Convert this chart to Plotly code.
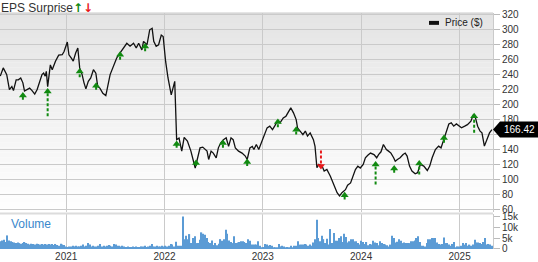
import plotly.graph_objects as go
import pandas as pd

# ---------------- data ----------------
price_dates = [
    "2020-05-01", "2020-05-12", "2020-05-25", "2020-06-04", "2020-06-13", "2020-06-19", "2020-06-29",
    "2020-07-07", "2020-07-16", "2020-07-24", "2020-07-30", "2020-08-08", "2020-08-18", "2020-08-27",
    "2020-09-06", "2020-09-15", "2020-09-24", "2020-10-03", "2020-10-09", "2020-10-15", "2020-10-19",
    "2020-10-24", "2020-11-03", "2020-11-10", "2020-11-22", "2020-12-04", "2020-12-17", "2020-12-24",
    "2021-01-05", "2021-01-11", "2021-01-20", "2021-01-27", "2021-02-05", "2021-02-13", "2021-02-20",
    "2021-03-01", "2021-03-08", "2021-03-15", "2021-03-24", "2021-04-02", "2021-04-12", "2021-04-21",
    "2021-04-28", "2021-05-06", "2021-05-17", "2021-05-28", "2021-06-13", "2021-06-25", "2021-07-07",
    "2021-07-20", "2021-08-01", "2021-08-14", "2021-08-26", "2021-09-08", "2021-09-18", "2021-09-27",
    "2021-10-09", "2021-10-15", "2021-10-28", "2021-11-07", "2021-11-16", "2021-11-22", "2021-12-01",
    "2021-12-10", "2021-12-20", "2021-12-27",
    "2022-01-05", "2022-01-14", "2022-01-26", "2022-02-08", "2022-02-15", "2022-02-24", "2022-03-06",
    "2022-03-15", "2022-03-27", "2022-04-09", "2022-04-25", "2022-05-07", "2022-05-13", "2022-05-23",
    "2022-06-08", "2022-06-14", "2022-06-23", "2022-07-01", "2022-07-12", "2022-07-20", "2022-07-29",
    "2022-08-08", "2022-08-18", "2022-08-27", "2022-09-05", "2022-09-13", "2022-09-21", "2022-10-03",
    "2022-10-16", "2022-10-28", "2022-11-04", "2022-11-14", "2022-11-23", "2022-11-29", "2022-12-08",
    "2022-12-17", "2022-12-29",
    "2023-01-07", "2023-01-17", "2023-01-27", "2023-02-06", "2023-02-14", "2023-02-24", "2023-03-06",
    "2023-03-18", "2023-03-28", "2023-04-07", "2023-04-15", "2023-04-25", "2023-05-05", "2023-05-10",
    "2023-05-20", "2023-05-30", "2023-06-08", "2023-06-16", "2023-06-26", "2023-07-08", "2023-07-14",
    "2023-07-21", "2023-07-28", "2023-08-09", "2023-08-17", "2023-08-27", "2023-09-09", "2023-09-21",
    "2023-10-04", "2023-10-13", "2023-10-22", "2023-11-04", "2023-11-12", "2023-11-23", "2023-12-02",
    "2023-12-11", "2023-12-20", "2023-12-29",
    "2024-01-09", "2024-01-17", "2024-01-26", "2024-02-05", "2024-02-18", "2024-02-28", "2024-03-06",
    "2024-03-15", "2024-03-24", "2024-04-04", "2024-04-12", "2024-04-21", "2024-05-01", "2024-05-07",
    "2024-05-15", "2024-05-25", "2024-06-05", "2024-06-13", "2024-06-20", "2024-06-29", "2024-07-08",
    "2024-07-20", "2024-07-29", "2024-08-08", "2024-08-21", "2024-09-03", "2024-09-12", "2024-09-21",
    "2024-10-03", "2024-10-15", "2024-10-24", "2024-11-04", "2024-11-13", "2024-11-22", "2024-12-01",
    "2024-12-10", "2024-12-20", "2024-12-29",
    "2025-01-08", "2025-01-20", "2025-01-30", "2025-02-12", "2025-02-21", "2025-03-01", "2025-03-09",
    "2025-03-18", "2025-03-25", "2025-04-03", "2025-04-13", "2025-04-22", "2025-05-01",
]
price_values = [
    238, 249, 240, 220, 224, 218.6, 233, 233, 235.5, 229, 218, 220, 222, 218.6, 214, 220, 229, 240,
    242, 238, 244.5, 224, 253, 246.6, 258, 266, 266.6, 271,
    283.6, 266.6, 262, 258, 269, 275.6, 249, 240, 229, 221, 231, 235.5, 246.6, 242, 224, 222, 215, 212,
    240, 251, 262, 269, 275.6, 282, 278, 282, 275.6, 282, 273, 284.5, 280, 300, 302, 284.5, 278, 280,
    293, 291,
    258, 235.5, 213, 231, 153, 155, 137.6, 156, 151, 137.6, 115, 135, 142, 143, 137.6, 126.4, 137.6,
    135, 128.7, 142, 148.7, 153, 155.4, 144, 155.4, 153, 142, 137.6, 135, 131, 126.4, 142, 144, 139.8,
    146.5, 139.8, 151,
    157.7, 168.8, 171, 166.5, 171, 177.7, 175.4, 182, 184.4, 191, 195.5, 188.8, 179.8, 168.8, 164.4,
    159.8, 164.4, 157.7, 162, 153, 144, 115.4, 119.8, 117.6, 111, 113, 104, 93, 82, 77.6, 82, 86, 92,
    95, 104, 113, 117.6, 115,
    119.8, 128.7, 132, 135, 133, 128.7, 133, 136.7, 146.5, 139.8, 137.6, 135, 128.7, 124, 126.4, 128.7,
    133, 135, 131, 117.6, 111, 107.3, 108.7, 119.8, 117.6, 111.7, 117.6, 128.7, 139.8, 144.3, 142,
    155.4, 164.4, 174, 175.4, 171, 174, 171,
    168.8, 171, 173, 177.7, 186.5, 182, 171, 164.4, 162, 144.3, 153, 162, 166.42,
]
last_price = 166.42

# weekly volume, thousands of shares
volume_k = [
    3.5, 3.9, 4.2, 3.2, 6.2, 3.9, 3.5, 3.2, 3.0, 2.7, 3.0, 2.7, 2.4, 2.7, 3.2, 2.7, 2.4, 2.0, 2.4, 2.3,
    2.0, 2.4, 2.3, 2.0, 2.3, 2.0, 2.3, 2.0, 2.3, 2.0, 2.3, 1.8, 2.3, 1.8, 1.5, 2.4, 2.1, 1.8, 1.2, 0.9,
    1.2, 1.2, 1.5, 1.2, 1.5, 1.2, 1.2, 1.5, 2.0, 1.2, 1.5, 2.7, 2.0, 1.2, 1.5, 1.2, 1.2, 1.5, 2.3, 1.2,
    1.5, 1.2, 1.5, 1.8, 1.5, 1.2, 2.3, 2.0, 1.5, 1.5, 1.2, 1.5, 1.2, 0.9, 1.2, 0.9, 0.9, 1.2, 0.9, 1.2,
    0.9, 0.9, 1.2, 1.2, 1.5, 0.9, 1.2, 1.5, 2.3, 1.2, 1.2, 1.5, 1.2, 1.2, 1.5, 1.2, 1.5, 1.2, 1.5, 2.3,
    2.0, 1.2,
    3.3, 1.5, 1.5, 1.5, 14.8, 4.5, 6.1, 4.5, 6.8, 2.7, 5.0, 5.8, 2.7, 2.7, 4.2, 7.6, 7.0, 6.5, 5.0, 3.2,
    2.7, 3.9, 1.8, 2.7, 1.7, 2.4, 4.5, 3.8, 4.5, 8.8, 7.0, 3.9, 3.2, 2.7, 5.8, 2.7, 3.0, 3.2, 3.5, 3.5,
    3.2, 2.7, 4.5, 3.8, 2.0, 2.0, 2.0, 2.0, 3.5, 1.5, 0.8, 0.9, 2.3, 2.0, 1.5, 1.8, 1.5, 0.8, 0.8, 0.8,
    2.3, 1.2, 1.5, 1.2, 0.8, 0.9, 0.8, 1.5, 0.8, 1.5, 1.5, 3.5, 2.0, 2.1, 2.0, 2.3, 2.0, 1.5, 2.0, 1.5,
    3.0, 4.5, 13.3, 5.0, 3.5, 6.1, 4.5, 2.7, 4.7, 2.0,
    9.1, 2.7, 7.3, 3.8, 3.8, 5.0, 5.8, 3.2, 7.0, 5.5, 3.0, 3.5, 4.5, 4.5, 3.5, 3.5, 2.7, 2.0, 3.8, 3.2,
    2.3, 3.2, 1.7, 2.3, 2.0, 3.8, 3.0, 2.7, 1.7, 3.5, 2.7, 2.3, 2.0, 1.7, 1.2, 2.0, 6.1, 5.0, 3.0, 3.3,
    4.5, 3.8, 2.7, 3.0, 2.7, 2.7, 2.7, 3.5, 3.5, 3.9, 5.0, 5.8, 3.2, 1.5, 1.5, 1.2, 2.7, 4.5, 4.5, 5.0,
    5.0, 5.0, 3.0, 2.3, 2.0, 2.3, 5.3, 2.7, 2.7, 2.0, 1.5, 2.3, 3.2, 0.8, 1.2, 1.2, 1.5, 2.7, 2.0, 2.7,
    1.5, 2.0, 1.5, 2.0, 4.2, 3.0, 3.0, 2.7, 2.3, 3.2, 5.0, 2.0, 2.3, 2.0, 1.5,
]
volume_start = "2020-05-02"
volume_end = "2025-05-01"

eps_dates = [
    "2020-07-24", "2020-10-24", "2021-02-20", "2021-04-22", "2021-07-20", "2021-10-21",
    "2022-02-15", "2022-04-28", "2022-08-06", "2022-11-04", "2023-02-26", "2023-05-05",
    "2023-08-05", "2023-11-01", "2024-02-24", "2024-05-03", "2024-08-04", "2024-11-04",
    "2025-02-24",
]
eps_head = [216.8, 222.2, 248.9, 229.8, 271.2, 282.2, 151.8, 126.4, 153.1, 127.8, 181.2, 171.0,
            113.1, 83.3, 124.3, 119.0, 125.6, 159.8, 188.8]
eps_tail = [206.5, 184.4, 236.4, 219.9, 260.0, 271.2, 142.0, 117.6, 142.0, 117.6, 169.7, 159.8,
            138.4, 73.0, 93.0, 108.7, 106.4, 148.7, 162.1]
eps_result = ["beat"] * 12 + ["miss"] + ["beat"] * 6

price_ticks = list(range(60, 321, 20))
# the 160 label sits under the last-price tag in the reference
price_tick_text = ["" if v == 160 else str(v) for v in price_ticks]
volume_ticks = [0, 5, 10, 15]
volume_tick_text = ["0", "5k", "10k", "15k"]

# ---------------- styling ----------------
FONT = "Liberation Sans, Arial, Helvetica, sans-serif"
GREEN = "#118a11"
RED = "#e8191b"
GRID = "#cacaca"
TEXT = "#333333"

W, H = 538, 262
M_L, M_R, M_T, M_B = 0, 45, 13, 10
plot_h = H - M_T - M_B
price_bottom_px = 215
vol_top_px = 216.5
price_dom0 = (H - M_B - price_bottom_px) / plot_h
vol_dom1 = (H - M_B - vol_top_px) / plot_h
y_range = [55.5, 322.5]
px_per_dollar = (1 - price_dom0) * plot_h / (y_range[1] - y_range[0])

fig = go.Figure()

# price line
fig.add_trace(go.Scatter(
    x=price_dates, y=price_values, mode="lines",
    line=dict(color="#111111", width=1.3), xaxis="x", yaxis="y", showlegend=False,
    hoverinfo="skip",
))

# EPS arrows
tri_size = 7
tip_off = (tri_size / 2) / px_per_dollar
for kind, color, sym, sign in [("beat", GREEN, "triangle-up", 1), ("miss", RED, "triangle-down", -1)]:
    sx, sy, hx, hy = [], [], [], []
    for d, h, t, r in zip(eps_dates, eps_head, eps_tail, eps_result):
        if r != kind:
            continue
        center = h - sign * tip_off
        sx += [d, d, None]
        sy += [t, center, None]
        hx.append(d)
        hy.append(center)
    fig.add_trace(go.Scatter(
        x=sx, y=sy, mode="lines", line=dict(color=color, width=2, dash="3px,2px"),
        xaxis="x", yaxis="y", showlegend=False, hoverinfo="skip",
    ))
    fig.add_trace(go.Scatter(
        x=hx, y=hy, mode="markers",
        marker=dict(symbol=sym, size=tri_size, color=color, line=dict(width=0)),
        xaxis="x", yaxis="y", showlegend=False, hoverinfo="skip",
    ))

# volume bars
vol_dates = pd.date_range(volume_start, volume_end, periods=len(volume_k))
fig.add_trace(go.Bar(
    x=vol_dates, y=volume_k, marker=dict(color="#5b9bd5", line=dict(width=0)),
    xaxis="x2", yaxis="y2", showlegend=False, hoverinfo="skip",
))

# gradient background of price panel
shapes = []
n_bands = 40
for i in range(n_bands):
    f0 = price_dom0 + (1 - price_dom0) * i / n_bands
    f1 = price_dom0 + (1 - price_dom0) * (i + 1) / n_bands
    frac = (i + 0.5) / n_bands
    c = int(round(255 - (255 - 228) * frac))
    shapes.append(dict(type="rect", xref="paper", yref="paper", x0=0, x1=1, y0=f0, y1=f1,
                       fillcolor=f"rgb({c},{c},{c})", line=dict(width=0), layer="below"))
# separator between panels
sep_y = (H - M_B - 216) / plot_h
shapes.append(dict(type="line", xref="paper", yref="paper", x0=0, x1=1, y0=sep_y, y1=sep_y,
                   line=dict(color="#dcdcdc", width=2), layer="above"))
# top border
shapes.append(dict(type="line", xref="paper", yref="paper", x0=0, x1=1, y0=1, y1=1,
                   line=dict(color=GRID, width=1), layer="below"))
# legend swatch
plot_w = W - M_L - M_R
shapes.append(dict(type="rect", xref="paper", yref="paper",
                   x0=429 / plot_w, x1=439 / plot_w,
                   y0=(H - M_B - 25) / plot_h, y1=(H - M_B - 21) / plot_h,
                   fillcolor="#111111", line=dict(width=0)))
# last price tag
shapes.append(dict(type="path", xref="paper", xsizemode="pixel", xanchor=1,
                   yref="y", ysizemode="pixel", yanchor=last_price,
                   path="M0,0 L7,8 L60,8 L60,-8 L7,-8 Z",
                   fillcolor="#000000", line=dict(width=0)))

arrow_style = "font-family:DejaVu Sans;font-weight:bold;font-size:12px"
annotations = [
    dict(xref="paper", yref="paper", x=0, y=1, xanchor="left", yanchor="top", showarrow=False,
         text=(f"EPS Surprise<span style='color:{GREEN};{arrow_style}'>↑</span>"
               f"<span style='color:{RED};{arrow_style}'>↓</span>"),
         font=dict(family=FONT, size=12, color=TEXT), borderpad=0, yshift=M_T),
    dict(xref="paper", yref="paper", x=443 / plot_w, y=(H - M_B - 23) / plot_h,
         xanchor="left", yanchor="middle", showarrow=False, text="Price ($)",
         font=dict(family=FONT, size=10, color="#222222")),
    dict(xref="paper", yref="paper", x=9 / plot_w, y=(H - M_B - 227) / plot_h,
         xanchor="left", yanchor="middle", showarrow=False, text="Volume",
         font=dict(family=FONT, size=12, color="#3a88cc")),
    dict(xref="paper", yref="y", x=1, y=last_price, xanchor="left", yanchor="middle",
         xshift=9, showarrow=False, text=f"{last_price:.2f}",
         font=dict(family=FONT, size=10, color="#ffffff")),
]

x_range = ["2020-04-30", "2025-05-05"]
common_x = dict(range=x_range, type="date", dtick="M12", tick0="2021-01-01",
                showgrid=True, gridcolor=GRID, gridwidth=1, zeroline=False, ticks="",
                showline=False)

fig.update_layout(
    width=W, height=H,
    margin=dict(l=M_L, r=M_R, t=M_T, b=M_B, pad=0),
    paper_bgcolor="#ffffff", plot_bgcolor="rgba(0,0,0,0)",
    font=dict(family=FONT, size=10, color=TEXT),
    showlegend=False, bargap=0.3,
    xaxis=dict(domain=[0, 1], anchor="y", showticklabels=False, **common_x),
    xaxis2=dict(domain=[0, 1], anchor="y2", matches="x", showticklabels=True, tickformat="%Y",
                tickfont=dict(family=FONT, size=10, color=TEXT), **common_x),
    yaxis=dict(domain=[price_dom0, 1], anchor="x", side="right", range=y_range,
               tickvals=price_ticks, ticktext=price_tick_text, showgrid=True, gridcolor=GRID,
               zeroline=False, ticks="outside", ticklen=6, tickcolor="#bbbbbb", showline=True,
               linecolor=GRID, tickfont=dict(family=FONT, size=10, color=TEXT)),
    yaxis2=dict(domain=[0, vol_dom1], anchor="x2", side="right", range=[0, 16],
                tickvals=volume_ticks, ticktext=volume_tick_text, showgrid=False, zeroline=False,
                ticks="outside", ticklen=6, tickcolor="#bbbbbb", showline=True, linecolor=GRID,
                tickfont=dict(family=FONT, size=10, color=TEXT)),
    shapes=shapes,
    annotations=annotations,
)

fig.write_html("out.html")
